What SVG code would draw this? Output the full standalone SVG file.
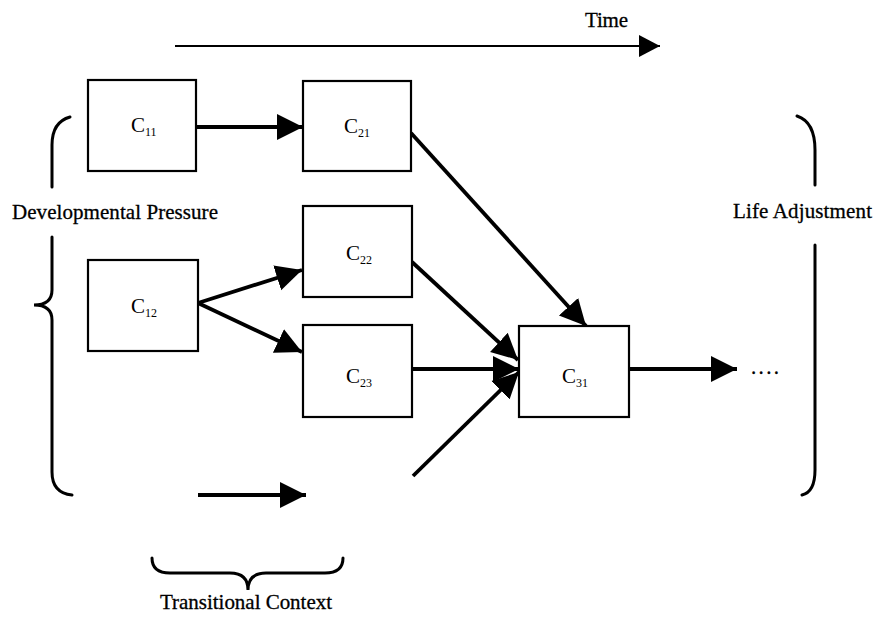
<svg xmlns="http://www.w3.org/2000/svg" width="875" height="618" viewBox="0 0 875 618">
<defs>
<marker id="ah" markerUnits="userSpaceOnUse" markerWidth="27" markerHeight="28" refX="26" refY="14" orient="auto">
<path d="M0,1 L26,14 L0,27 z" fill="#000"/>
</marker>
<marker id="ahs" markerUnits="userSpaceOnUse" markerWidth="22" markerHeight="24" refX="21" refY="12" orient="auto">
<path d="M0,1 L21,12 L0,23 z" fill="#000"/>
</marker>
<style>
.box{fill:#fff;stroke:#000;stroke-width:2.2}
.lbl{font-family:"Liberation Serif","Times New Roman",serif;font-size:21px;fill:#000}
.sub{font-size:12px}
.txt{font-family:"Liberation Serif","Times New Roman",serif;font-size:21px;fill:#000;stroke:#000;stroke-width:0.3}
.con{stroke:#000;stroke-width:3.8;fill:none;marker-end:url(#ah)}
.brace{stroke:#000;stroke-width:3;fill:none;stroke-linecap:round}
</style>
</defs>
<rect width="875" height="618" fill="#fff"/>

<g id="labels">
<text class="txt" x="585" y="27" textLength="43">Time</text>
<text class="txt" x="12" y="219" textLength="206">Developmental Pressure</text>
<text class="txt" x="733" y="218" textLength="139">Life Adjustment</text>
<text class="txt" x="160" y="609" textLength="172">Transitional Context</text>
<text class="txt" x="751" y="374" textLength="28">....</text>
</g>

<g id="braces">
<path class="brace" d="M70,117 Q52,122 52,145 L52,187"/>
<path class="brace" d="M52,237 L52,290 Q52,305 34,305 Q52,305 52,320 L52,472 Q52,493 72,495"/>
<path class="brace" d="M797,116 Q815,122 815,150 L815,185"/>
<path class="brace" d="M815,245 L815,470 Q815,492 802,495"/>
<path class="brace" d="M152,558 Q152,573 170,573 L230,573 Q248,573 248,590 Q248,573 266,573 L325,573 Q343,573 343,558"/>
</g>

<g id="connectors">
<line x1="175" y1="46" x2="660" y2="46" stroke="#000" stroke-width="2" marker-end="url(#ahs)"/>
<line class="con" x1="196" y1="127" x2="303" y2="127"/>
<line class="con" x1="198" y1="303" x2="302" y2="270"/>
<line class="con" x1="198" y1="303" x2="302" y2="352"/>
<line class="con" x1="411" y1="133" x2="586" y2="326"/>
<line class="con" x1="412" y1="262" x2="518" y2="360"/>
<line class="con" x1="412" y1="369" x2="519" y2="369" stroke-width="4.5"/>
<line class="con" x1="413" y1="476" x2="519" y2="372"/>
<line class="con" x1="629" y1="369" x2="737" y2="369"/>
<line class="con" x1="198" y1="495" x2="306" y2="495"/>
</g>

<g id="C11"><rect class="box" x="88" y="80" width="108" height="91"/><text class="lbl" x="131" y="132">C<tspan class="sub" dy="4">11</tspan></text></g>
<g id="C12"><rect class="box" x="88" y="260" width="110" height="91"/><text class="lbl" x="131" y="313">C<tspan class="sub" dy="4">12</tspan></text></g>
<g id="C21"><rect class="box" x="303" y="81" width="108" height="90"/><text class="lbl" x="344" y="133">C<tspan class="sub" dy="4">21</tspan></text></g>
<g id="C22"><rect class="box" x="303" y="206" width="109" height="91"/><text class="lbl" x="346" y="260">C<tspan class="sub" dy="4">22</tspan></text></g>
<g id="C23"><rect class="box" x="303" y="325" width="109" height="92"/><text class="lbl" x="346" y="383">C<tspan class="sub" dy="4">23</tspan></text></g>
<g id="C31"><rect class="box" x="519" y="326" width="110" height="91"/><text class="lbl" x="562" y="383">C<tspan class="sub" dy="4">31</tspan></text></g>
</svg>
